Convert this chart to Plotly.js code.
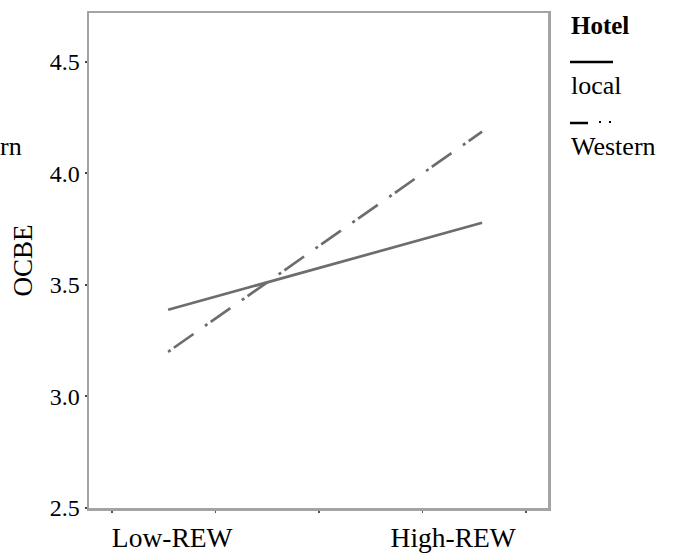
<!DOCTYPE html>
<html>
<head>
<meta charset="utf-8">
<script src="https://cdn.plot.ly/plotly-3.0.1.min.js"></script>
<style>html,body{margin:0;padding:0;background:#fff;}#chart{width:675px;height:553px;}</style>
</head>
<body>
<div id="chart"></div>
<script>
// ---- data ----
var categories = ["Low-REW", "High-REW"];
var localValues = [3.388, 3.778];
var westernValues = [3.200, 4.186];
var seriesNames = ["local", "Western"];
var yTickValues = [2.5, 3.0, 3.5, 4.0, 4.5];
var yTickLabels = ["2.5", "3.0", "3.5", "4.0", "4.5"];
var legendTitle = "Hotel";
var yTitle = "OCBE";

// ---- layout helpers (pixel -> paper) ----
var W = 675, H = 553;
var M = {l: 89, r: 127, t: 13, b: 45};
var PW = W - M.l - M.r, PH = H - M.t - M.b;
function px(x) { return (x - M.l) / PW; }
function py(y) { return (H - M.b - y) / PH; }

var xIdx = categories.map(function (c, i) { return i; });
var labelPos = [0.013, 0.908];
var FONT = "Liberation Serif, Times New Roman, serif";
var lineColor = "#6d6d6d";

var traces = [
  {
    x: xIdx, y: localValues, name: seriesNames[0], type: "scatter", mode: "lines",
    line: {color: lineColor, width: 2.7}, showlegend: false, hoverinfo: "skip"
  },
  {
    x: xIdx, y: westernValues, name: seriesNames[1], type: "scatter", mode: "lines",
    line: {color: lineColor, width: 2.7, dash: "3px,4px,24px,14px"}, showlegend: false, hoverinfo: "skip"
  }
];

var layout = {
  width: W, height: H,
  margin: M,
  paper_bgcolor: "#fff", plot_bgcolor: "#fff",
  font: {family: FONT, color: "#000", size: 23},
  showlegend: false,
  xaxis: {
    range: [-0.252, 1.210],
    tickmode: "array", tickvals: labelPos, ticktext: categories,
    ticks: "", showgrid: false, zeroline: false,
    showline: true, linecolor: "#a3a3a3", linewidth: 2.5, mirror: true,
    tickfont: {family: FONT, size: 27.5, color: "#000"},
    ticklabelstandoff: 3,
    minor: {tickmode: "linear", tick0: -0.178, dtick: 0.3295, ticks: "outside", ticklen: 2, tickwidth: 1.5, tickcolor: "#555", showgrid: false}
  },
  yaxis: {
    range: [2.5, 4.718],
    tickmode: "array", tickvals: yTickValues, ticktext: yTickLabels,
    ticks: "outside", ticklen: 2, tickwidth: 2, tickcolor: "#444",
    showgrid: false, zeroline: false,
    showline: true, linecolor: "#a3a3a3", linewidth: 2.5, mirror: true,
    tickfont: {family: FONT, size: 24, color: "#000"},
    title: {text: yTitle, font: {family: FONT, size: 27, color: "#000"}, standoff: 10}
  },
  shapes: [
    {type: "line", xref: "paper", yref: "paper", x0: px(570), x1: px(613), y0: py(62), y1: py(62), line: {color: "#000", width: 2.5}},
    {type: "line", xref: "paper", yref: "paper", x0: px(570), x1: px(588), y0: py(123), y1: py(123), line: {color: "#000", width: 2.5}},
    {type: "line", xref: "paper", yref: "paper", x0: px(599), x1: px(601), y0: py(122), y1: py(122), line: {color: "#000", width: 2}},
    {type: "line", xref: "paper", yref: "paper", x0: px(609), x1: px(611), y0: py(122), y1: py(122), line: {color: "#000", width: 2}}
  ],
  annotations: [
    {xref: "paper", yref: "paper", x: px(569), y: py(25), xanchor: "left", yanchor: "middle", showarrow: false,
     text: "<b>" + legendTitle + "</b>", font: {family: FONT, size: 25, color: "#000"}},
    {xref: "paper", yref: "paper", x: px(569), y: py(85), xanchor: "left", yanchor: "middle", showarrow: false,
     text: seriesNames[0], font: {family: FONT, size: 26, color: "#000"}},
    {xref: "paper", yref: "paper", x: px(569), y: py(147), xanchor: "left", yanchor: "middle", showarrow: false,
     text: seriesNames[1], font: {family: FONT, size: 26, color: "#000"}},
    {xref: "paper", yref: "paper", x: px(-2), y: py(147), xanchor: "left", yanchor: "middle", showarrow: false,
     text: "rn", font: {family: FONT, size: 26, color: "#000"}}
  ]
};

Plotly.newPlot("chart", traces, layout, {staticPlot: true, displayModeBar: false});
</script>
</body>
</html>
